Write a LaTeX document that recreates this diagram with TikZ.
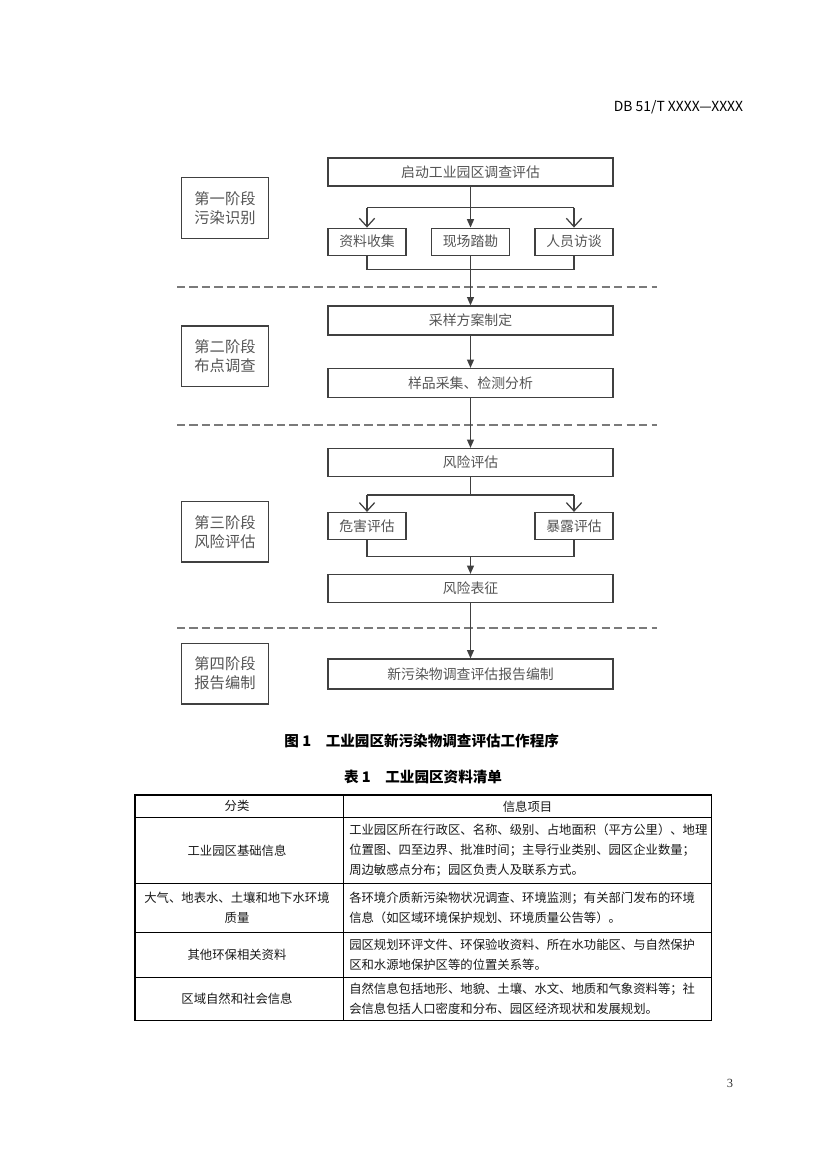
\documentclass[tikz,border=0pt]{standalone}
\usepackage{fontspec}
\setmainfont{Noto Sans CJK SC}
\newfontfamily\serifnum{Liberation Serif}
\usetikzlibrary{arrows.meta,positioning}
\definecolor{linegray}{HTML}{404040}
\definecolor{textgray}{HTML}{555555}
\definecolor{dashgray}{HTML}{7A7A7A}
\newcommand\pxu{0.7207pt}

\begin{document}
\begin{tikzpicture}[x=0.7207pt,y=-0.7207pt,
    box/.style={draw=linegray,line width=0.9pt,inner sep=0pt,minimum height=28*\pxu,text=textgray,font=\fontsize{10}{12}\selectfont},
    widebox/.style={box,minimum width=285*\pxu},
    smallbox/.style={box,minimum width=78*\pxu,minimum height=27*\pxu},
    stagebox/.style={draw=linegray,line width=0.9pt,inner sep=0pt,minimum width=86.6*\pxu,minimum height=60.7*\pxu,align=center,text=textgray,font=\fontsize{11}{13.7}\selectfont},
    flow/.style={draw=linegray,line width=0.9pt},
    down/.style={flow,-{Triangle[length=6pt,width=5pt]}},
    branch/.style={flow,-{Straight Barb[length=6pt,width=11pt]}},
    sep/.style={draw=dashgray,line width=1pt,dash pattern=on 6pt off 3pt},
    cell/.style={inner sep=0pt,font=\fontsize{8.9}{14.4}\selectfont,text=black!90}]

    % Seite
    \path[fill=white,use as bounding box] (0,0) rectangle (826,1169);
    \node[anchor=east,font=\fontsize{10}{12}\selectfont] (header) at (748,107) {DB 51/T XXXX—XXXX};

    % Phasen
    \node[stagebox] (stage1) at (225,208) {第一阶段\\污染识别};
    \node[stagebox] (stage2) at (225,356.3) {第二阶段\\布点调查};
    \node[stagebox] (stage3) at (225,531.7) {第三阶段\\风险评估};
    \node[stagebox] (stage4) at (225,673.7) {第四阶段\\报告编制};

    % Trennlinien
    \draw[sep] (177,287) -- (657,287);
    \draw[sep] (177,425) -- (657,425);
    \draw[sep] (177,628) -- (657,628);

    % Schritte
    \node[widebox] (start) at (470.5,172) {启动工业园区调查评估};
    \node[smallbox] (collect) at (367,241.7) {资料收集};
    \node[smallbox] (survey) at (470.5,241.7) {现场踏勘};
    \node[smallbox] (interview) at (574,241.7) {人员访谈};
    \node[widebox,minimum height=29*\pxu] (plan) at (470.5,320.5) {采样方案制定};
    \node[widebox,minimum height=29*\pxu] (sample) at (470.5,383) {样品采集、检测分析};
    \node[widebox] (risk) at (470.5,462.5) {风险评估};
    \node[smallbox] (hazard) at (367,526) {危害评估};
    \node[smallbox] (expo) at (574,526) {暴露评估};
    \node[widebox] (charac) at (470.5,588.5) {风险表征};
    \node[widebox,minimum height=30*\pxu] (report) at (470.5,674) {新污染物调查评估报告编制};

    \coordinate (fork1) at (470.5,207.7);
    \coordinate (join1) at (470.5,269.3);
    \coordinate (fork3) at (470.5,495);
    \coordinate (join3) at (470.5,556.7);

    % Pfeile
    \draw[down] (start) -- (survey);
    \draw[flow] (collect.north |- fork1) -- (interview.north |- fork1);
    \draw[branch] (collect.north |- fork1) -- (collect);
    \draw[branch] (interview.north |- fork1) -- (interview);
    \draw[flow] (collect) -- (collect.south |- join1) -- (interview.south |- join1) -- (interview);
    \draw[down] (survey) -- (plan);
    \draw[down] (plan) -- (sample);
    \draw[down] (sample) -- (risk);
    \draw[flow] (risk) -- (fork3);
    \draw[flow] (hazard.north |- fork3) -- (expo.north |- fork3);
    \draw[branch] (hazard.north |- fork3) -- (hazard);
    \draw[branch] (expo.north |- fork3) -- (expo);
    \draw[flow] (hazard) -- (hazard.south |- join3) -- (expo.south |- join3) -- (expo);
    \draw[down] (join3) -- (charac);
    \draw[down] (charac) -- (report);

    % Titel
    \node[font=\bfseries\fontsize{10.5}{12}\selectfont] (figcap) at (421.7,741) {图 1\hspace{1em}工业园区新污染物调查评估工作程序};
    \node[font=\bfseries\fontsize{10.5}{12}\selectfont] (tabcap) at (423,777) {表 1\hspace{1em}工业园区资料清单};

    % Tabelle
    \draw[line width=1pt] (135,795) rectangle (711.7,1020.7);
    \draw[line width=0.8pt] (343.3,795) -- (343.3,1020.7);
    \foreach \y in {817.3,883.3,932.3,977.3}
        \draw[line width=0.8pt] (135,\y) -- (711.7,\y);

    \node[cell] (headcat) at (237,806.3) {分类};
    \node[cell] (headinfo) at (527.5,806.3) {信息项目};
    \node[cell] (cat1) at (237,850.3) {工业园区基础信息};
    \node[cell,anchor=west,align=left] (info1) at (349,850.3) {工业园区所在行政区、名称、级别、占地面积（平方公里）、地理\\位置图、四至边界、批准时间；主导行业类别、园区企业数量；\\周边敏感点分布；园区负责人及联系方式。};
    \node[cell,align=center] (cat2) at (237,907.8) {大气、地表水、土壤和地下水环境\\质量};
    \node[cell,anchor=west,align=left] (info2) at (349,907.8) {各环境介质新污染物状况调查、环境监测；有关部门发布的环境\\信息（如区域环境保护规划、环境质量公告等）。};
    \node[cell] (cat3) at (237,954.8) {其他环保相关资料};
    \node[cell,anchor=west,align=left] (info3) at (349,954.8) {园区规划环评文件、环保验收资料、所在水功能区、与自然保护\\区和水源地保护区等的位置关系等。};
    \node[cell] (cat4) at (237,999) {区域自然和社会信息};
    \node[cell,anchor=west,align=left] (info4) at (349,999) {自然信息包括地形、地貌、土壤、水文、地质和气象资料等；社\\会信息包括人口密度和分布、园区经济现状和发展规划。};

    \node[font=\serifnum\fontsize{9}{10}\selectfont,text=black!80] (pagenum) at (730,1083) {3};
\end{tikzpicture}
\end{document}
